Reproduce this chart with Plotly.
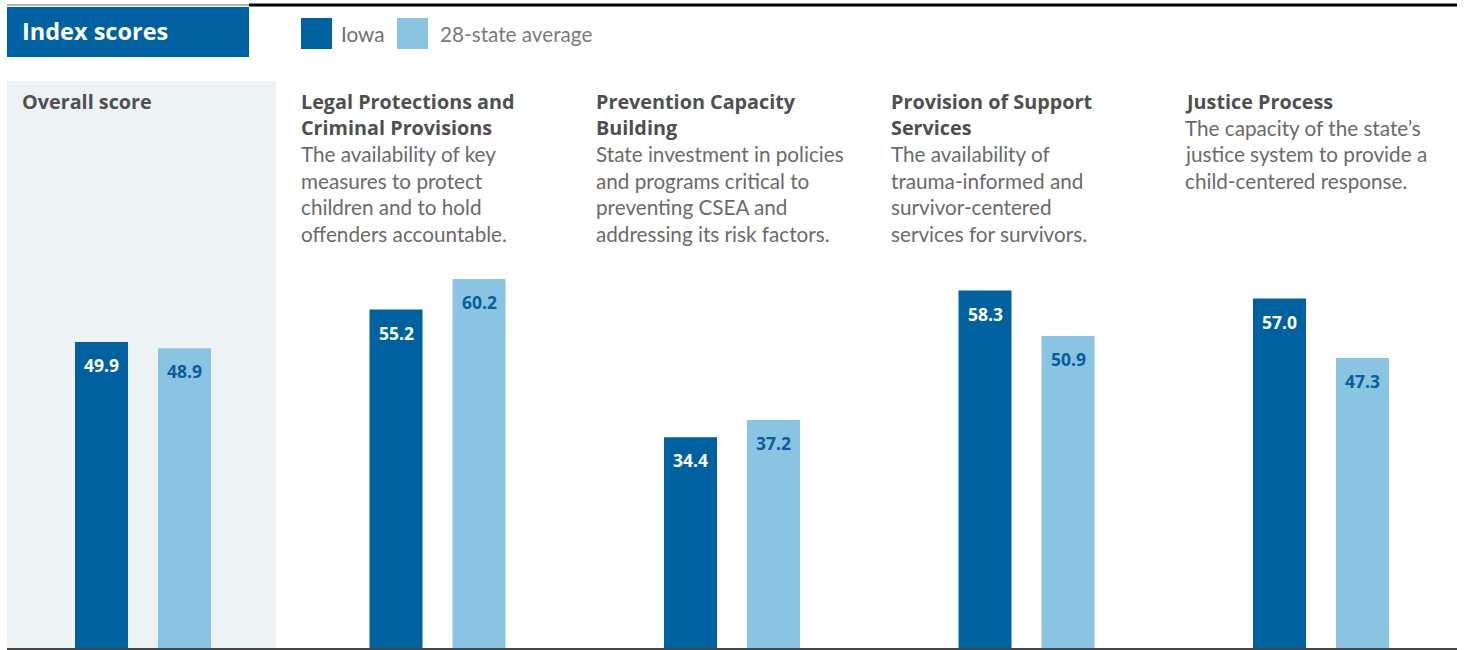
import plotly.graph_objects as go

categories = ["Overall score", "Legal Protections and Criminal Provisions",
              "Prevention Capacity Building", "Provision of Support Services", "Justice Process"]
title_lines = [
    ["Overall score"],
    ["Legal Protections and", "Criminal Provisions"],
    ["Prevention Capacity", "Building"],
    ["Provision of Support", "Services"],
    ["Justice Process"],
]
desc_lines = [
    [],
    ["The availability of key", "measures to protect", "children and to hold", "offenders accountable."],
    ["State investment in policies", "and programs critical to", "preventing CSEA and", "addressing its risk factors."],
    ["The availability of", "trauma-informed and", "survivor-centered", "services for survivors."],
    ["The capacity of the state\u2019s", "justice system to provide a", "child-centered response."],
]
iowa = [49.9, 55.2, 34.4, 58.3, 57.0]
avg28 = [48.9, 60.2, 37.2, 50.9, 47.3]
series_names = ["Iowa", "28-state average"]

W, H = 1465, 650
DARK = "#0061a0"
LIGHT = "#89c4e3"
FONT = "Lato"
BFONT = "Open Sans"

PERIOD = 294.5          # px per category
C0 = 143.0              # px centre of first group
x0 = -C0 / PERIOD
x1 = x0 + W / PERIOD
PXU = 6.13              # px per score unit
PLOT_H = 648
y1 = PLOT_H / PXU

bw = 53 / PERIOD
off_i = (75 - 143) / PERIOD
off_a = (158 - 143) / PERIOD
xs = list(range(len(categories)))

fig = go.Figure()
fig.add_trace(go.Bar(x=xs, y=iowa, name=series_names[0], marker_color=DARK,
                     width=bw, offset=off_i, marker_line_width=0, showlegend=False))
fig.add_trace(go.Bar(x=xs, y=avg28, name=series_names[1], marker_color=LIGHT,
                     width=bw, offset=off_a, marker_line_width=0, showlegend=False))

ann = []
for i in xs:
    ann.append(dict(x=i + off_i + bw / 2, y=iowa[i], xref="x", yref="y", text=f"<b>{iowa[i]:.1f}</b>",
                    showarrow=False, yanchor="middle", yshift=-23,
                    font=dict(family=BFONT, size=17.5, color="white")))
    ann.append(dict(x=i + off_a + bw / 2, y=avg28[i], xref="x", yref="y", text=f"<b>{avg28[i]:.1f}</b>",
                    showarrow=False, yanchor="middle", yshift=-23,
                    font=dict(family=BFONT, size=17.5, color="#0a5d9c")))

def px(xp):
    return xp / W

def py(yp):
    return (PLOT_H - yp) / PLOT_H

# panel texts (screen coords)
text_x = [22, 301, 596, 891, 1185]
LS = 26.6
for i in xs:
    y = 101
    for ln in title_lines[i]:
        ann.append(dict(x=px(text_x[i] - 2), y=py(y), xref="paper", yref="paper", xanchor="left",
                        yanchor="middle", showarrow=False, text=f"<b>{ln}</b>",
                        font=dict(family=BFONT, size=19.8, color="#4f4f4f")))
        y += LS
    for ln in desc_lines[i]:
        ann.append(dict(x=px(text_x[i] - 2), y=py(y), xref="paper", yref="paper", xanchor="left",
                        yanchor="middle", showarrow=False, text=ln,
                        font=dict(family=FONT, size=20.7, color="#6a6a6a")))
        y += LS

# header
ann.append(dict(x=px(20), y=py(31), xref="paper", yref="paper", xanchor="left", yanchor="middle",
                showarrow=False, text="<b>Index scores</b>",
                font=dict(family=BFONT, size=23.5, color="white")))
ann.append(dict(x=px(339), y=py(34), xref="paper", yref="paper", xanchor="left", yanchor="middle",
                showarrow=False, text=series_names[0], font=dict(family=FONT, size=20.7, color="#6f6f6f")))
ann.append(dict(x=px(438), y=py(34), xref="paper", yref="paper", xanchor="left", yanchor="middle",
                showarrow=False, text=series_names[1], font=dict(family=FONT, size=20.7, color="#7a7a7a")))

shapes = [
    # grey panel for overall score
    dict(type="rect", xref="paper", yref="paper", x0=px(7), x1=px(276), y0=py(650), y1=py(81),
         fillcolor="#edf3f4", line_width=0, layer="below"),
    # title box
    dict(type="rect", xref="paper", yref="paper", x0=px(7), x1=px(249), y0=py(57), y1=py(7),
         fillcolor=DARK, line_width=0),
    # legend squares
    dict(type="rect", xref="paper", yref="paper", x0=px(301), x1=px(332), y0=py(49), y1=py(18),
         fillcolor=DARK, line_width=0),
    dict(type="rect", xref="paper", yref="paper", x0=px(397), x1=px(428), y0=py(49), y1=py(18),
         fillcolor=LIGHT, line_width=0),
    # top rule
    dict(type="line", xref="paper", yref="paper", x0=px(7), x1=px(249), y0=py(5), y1=py(5),
         line=dict(color="#9a9a9a", width=1.5)),
    dict(type="line", xref="paper", yref="paper", x0=px(249), x1=px(1457), y0=py(5), y1=py(5),
         line=dict(color="black", width=3)),
    # baseline
    dict(type="line", xref="paper", yref="paper", x0=px(7), x1=px(1457), y0=py(649), y1=py(649),
         line=dict(color="#454545", width=2)),
]

fig.update_layout(
    width=W, height=H,
    margin=dict(l=0, r=0, t=0, b=H - PLOT_H),
    paper_bgcolor="white", plot_bgcolor="rgba(0,0,0,0)",
    barmode="overlay",
    xaxis=dict(range=[x0, x1], visible=False, fixedrange=True),
    yaxis=dict(range=[0, y1], visible=False, fixedrange=True),
    annotations=ann, shapes=shapes,
    showlegend=False,
)

fig.write_html("out.html", config={"displayModeBar": False},
               post_script="document.body.style.margin='0';document.body.style.overflow='hidden';")
